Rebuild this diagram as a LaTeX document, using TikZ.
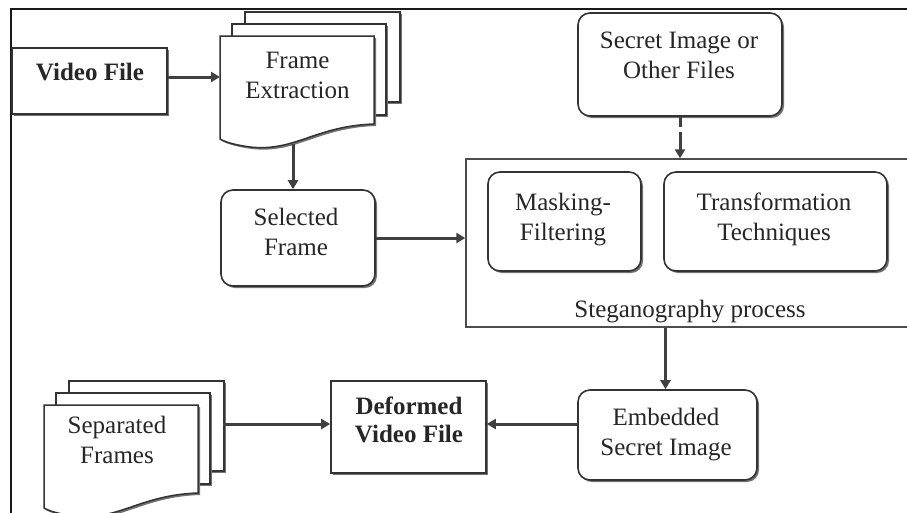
\documentclass[tikz,border=0pt]{standalone}
\usepackage{fontspec}
\setmainfont{Liberation Serif}
\usetikzlibrary{arrows.meta,shadows,calc}

\tikzset{
  x=1pt, y=-1pt,
  lbl/.style={font=\fontsize{25}{29.5}\selectfont, align=center, inner sep=0pt,
    anchor=north, text=black!85},
  lblbold/.style={lbl, font=\fontsize{25}{28}\selectfont\bfseries},
  boxshadow/.style={drop shadow={shadow xshift=2pt, shadow yshift=-2pt,
    fill=black!55, opacity=1}},
  sqbox/.style={draw=black!80, line width=1.6pt, fill=white, boxshadow,
    inner sep=0pt},
  rbox/.style={sqbox, rounded corners=12pt},
  procbox/.style={draw=black!70, line width=1.4pt, fill=white, inner sep=0pt},
  docpage/.style={draw=black!80, line width=1.5pt, fill=white, boxshadow},
  arr/.style={line width=3pt, draw=black!75,
    -{Triangle[length=9pt,width=10pt]}},
  % a stack of three pages, the front one with a wavy lower edge
  multidoc/.pic={
    \path[docpage] (25,-24) rectangle (180,66);
    \path[docpage] (12,-12) rectangle (166,79);
    \path[docpage] (0,0) -- (154,0) -- (154,88)
      .. controls (95,90) and (75,116) .. (30,111)
      .. controls (15,109) and (5,106) .. (0,103) -- cycle;
    \node[minimum width=154pt, minimum height=108pt, inner sep=0pt,
      anchor=north west] (-page) at (0,0) {};
    \coordinate (-back) at (179,19);
  }
}

\begin{document}
\begin{tikzpicture}
\useasboundingbox (0,0) rectangle (907,512);

% outer frame
\draw[line width=2.5pt, black!90] (11,520) -- (11,9) -- (915,9);

% input video
\node[sqbox, minimum width=155pt, minimum height=66pt] (vf) at (89.5,81) {};
\node[lblbold] (vft) at (90,63) {Video File};

% frame extraction stack
\pic (fe) at (220,36) {multidoc};
\node[lbl] (fet) at (297.5,52) {Frame\\Extraction};

% selected frame
\node[rbox, minimum width=154pt, minimum height=96pt] (sel) at (298,238) {};
\node[lbl] (selt) at (296,208) {Selected\\Frame};

% secret payload
\node[rbox, minimum width=204pt, minimum height=103pt] (sec) at (680,64.5) {};
\node[lbl] (sect) at (679,32) {Secret Image or\\Other Files};

% steganography process container
\node[procbox, minimum width=446pt, minimum height=168pt] (steg) at (689,243) {};
\node[rbox, minimum width=153pt, minimum height=99pt] (mask) at (564.5,221.5) {};
\node[lbl] (maskt) at (563,193) {Masking-\\Filtering};
\node[rbox, minimum width=223pt, minimum height=99pt] (trans) at (775.5,221.5) {};
\node[lbl] (transt) at (774,193) {Transformation\\Techniques};
\node[lbl] (stegt) at (690,300) {Steganography process};

% embedded result
\node[rbox, minimum width=179pt, minimum height=90pt] (emb) at (667.5,435) {};
\node[lbl] (embt) at (666,408) {Embedded\\Secret Image};

% output video
\node[sqbox, minimum width=155pt, minimum height=92pt] (def) at (408.5,427) {};
\node[lblbold] (deft) at (409,397) {Deformed\\Video File};

% separated frames stack
\pic (sf) at (44,405) {multidoc};
\node[lbl] (sft) at (117,416) {Separated\\Frames};

% connectors
\draw[arr] ([yshift=4pt]vf.east) -- ([yshift=4pt]vf.east -| fe-page.west);
\draw[arr] ([xshift=-5pt]sel.north |- fe-page.south) -- ([xshift=-5pt]sel.north);
\draw[arr] (sel.east) -- (sel.east -| steg.west);
\draw[arr, dash pattern=on 10pt off 5pt on 80pt off 0pt]
  (sec.south) -- (sec.south |- steg.north);
\draw[arr] ([xshift=-2pt]emb.north |- steg.south) -- ([xshift=-2pt]emb.north);
\draw[arr] ([yshift=11pt]emb.west) -- ([yshift=11pt]emb.west -| def.east);
\draw[arr] (sf-back) -- (sf-back -| def.west);
\end{tikzpicture}
\end{document}
